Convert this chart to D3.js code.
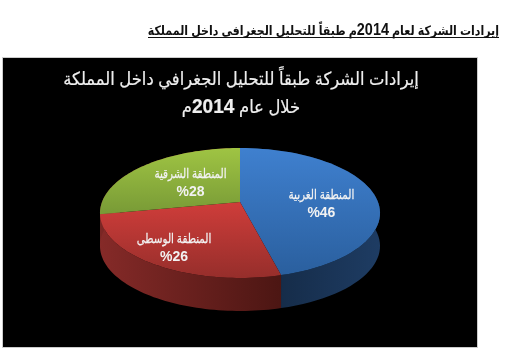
<!DOCTYPE html>
<html lang="ar">
<head>
  <meta charset="UTF-8">
  <title>إيرادات الشركة</title>
  <style>
  * {
    margin: 0;padding: 0;
  }
  body {
    background: #fff;
  }
  svg {
    display: block;
    font-family: "Liberation Sans", "DejaVu Sans", sans-serif;
    filter: blur(0.35px);
  }
  </style>
  <script src="https://cdn.jsdelivr.net/npm/d3@7"></script>
</head>
<body>
<svg width="510" height="352" id="svg1"></svg>
<script>
const regions = ["المنطقة الغربية", "المنطقة الوسطى", "المنطقة الشرقية"];
const shares = [46, 26, 28];
const pageTitle = ["إيرادات الشركة لعام ", "2014", "م طبقاً للتحليل الجغرافي داخل المملكة"];
const chartTitle = [["إيرادات الشركة طبقاً للتحليل الجغرافي داخل المملكة"], ["خلال عام ", "2014", "م"]];
const topColors = [["#3f80cf", "#2a5f9e"], ["#cf3d3a", "#962e2b"], ["#9fc443", "#789a36"]];
const sideColors = [["#1e3c63", "#12263f"], ["#852a28", "#4c1613"], ["#7a2624", "#7a2624"]];

const svg = d3.select("#svg1");
const defs = svg.append("defs");

// digits are set bigger and bold in the originals
function addRuns(sel, digitSize) {
  sel.selectAll("tspan").data(d => d).enter()
    .append("tspan")
    .attr("font-size", d => /^\d+$/.test(d) ? digitSize : null)
    .attr("font-weight", d => /^\d+$/.test(d) ? "bold" : null)
    .text(d => d);
}

// page heading
svg.append("text").datum(pageTitle)
  .attr("transform", "translate(499,34.5) scale(0.85,1)")
  .attr("direction", "rtl")
  .attr("font-size", 13).attr("font-weight", "bold").attr("fill", "#111")
  .call(addRuns, 17);
svg.append("line")
  .attr("x1", 148).attr("x2", 499).attr("y1", 37.5).attr("y2", 37.5)
  .attr("stroke", "#111").attr("stroke-width", 1);

// black panel
svg.append("rect")
  .attr("x", 2.5).attr("y", 57.5).attr("width", 475).attr("height", 290)
  .attr("fill", "#000").attr("stroke", "#ccc").attr("stroke-width", 1);

svg.append("g").selectAll("text").data(chartTitle).enter()
  .append("text")
  .attr("transform", (d, i) => `translate(241,${85 + i * 28}) scale(0.91,1)`)
  .attr("text-anchor", "middle")
  .attr("direction", "rtl")
  .attr("font-size", 18)
  .attr("fill", "#eee")
  .attr("stroke", "#eee").attr("stroke-width", 0.2)
  .call(addRuns, 21);

// pie tilted with a perspective map, apex stays where the slices meet
const apex = [240, 202];
const depth = 33;
const k = 0.169;
const sx = d3.scaleLinear().domain([-1, 1]).range([apex[0] - 138, apex[0] + 138]);
const sy = d3.scaleLinear().domain([-1, 1]).range([apex[1] - 63.1, apex[1] + 63.1]);

function project(a, r, dy) {
  const u = r * Math.sin(a);
  const v = -r * Math.cos(a);
  const w = 1 - k * v;
  return [sx(u / w), sy(v / w) + (dy || 0)];
}

const pie = d3.pie().sort(null).value(d => d);
const arcs = pie(shares);
const line = d3.line();

function rim(d, dy) {
  return d3.range(0, 61).map(i => project(d.startAngle + (d.endAngle - d.startAngle) * i / 60, 1, dy));
}

arcs.forEach((d, i) => {
  const t = defs.append("linearGradient").attr("id", "top" + i)
    .attr("x1", 0).attr("x2", 0).attr("y1", 0).attr("y2", 1);
  t.append("stop").attr("offset", 0).attr("stop-color", topColors[i][0]);
  t.append("stop").attr("offset", 1).attr("stop-color", topColors[i][1]);
  const s = defs.append("linearGradient").attr("id", "side" + i)
    .attr("x1", i == 0 ? 1 : 0).attr("x2", i == 0 ? 0 : 1).attr("y1", 0).attr("y2", 0);
  s.append("stop").attr("offset", 0).attr("stop-color", sideColors[i][0]);
  s.append("stop").attr("offset", 1).attr("stop-color", sideColors[i][1]);
});

// side walls first, the top covers whatever is behind
svg.append("g").selectAll("path").data(arcs).enter()
  .append("path")
  .attr("fill", (d, i) => `url(#side${i})`)
  .attr("d", d => line(rim(d, 0).concat(rim(d, depth).reverse())) + "Z");

svg.append("g").selectAll("path").data(arcs).enter()
  .append("path")
  .attr("fill", (d, i) => `url(#top${i})`)
  .attr("d", d => line([apex].concat(rim(d, 0))) + "Z");

// labels
const labelR = [0.59, 0.757, 0.516];
const labelTurn = [7, 2, 3];
const labels = svg.append("g").selectAll("g").data(arcs).enter()
  .append("g")
  .attr("transform", (d, i) => {
    const p = project((d.startAngle + d.endAngle) / 2 + labelTurn[i] * Math.PI / 180, labelR[i]);
    return `translate(${p[0]},${p[1]})`;
  });
labels.append("text")
  .attr("transform", "translate(0,-3) scale(0.8,1)")
  .attr("text-anchor", "middle").attr("direction", "rtl")
  .attr("font-size", 13).attr("fill", "#f2f2f2")
  .attr("stroke", "#f2f2f2").attr("stroke-width", 0.25)
  .text((d, i) => regions[i]);
labels.append("text")
  .attr("text-anchor", "middle").attr("direction", "ltr")
  .attr("font-size", 14).attr("font-weight", "bold").attr("fill", "#f2f2f2")
  .attr("y", 15)
  .text(d => "%" + d.data);
</script>
</body>
</html>
